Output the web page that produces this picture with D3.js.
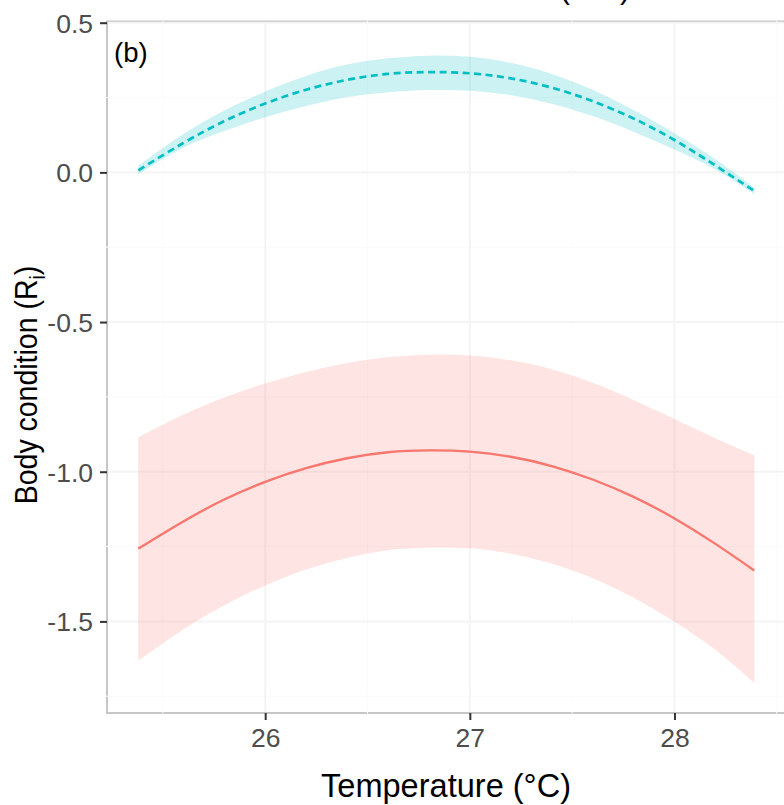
<!DOCTYPE html>
<html>
<head>
<meta charset="utf-8">
<script src="https://cdn.jsdelivr.net/npm/d3@7"></script>
<style>
  html, body { margin: 0; padding: 0; background: #fff; }
  svg { display: block; font-family: "Liberation Sans", Arial, sans-serif; }
</style>
</head>
<body>
<svg id="chart" width="784" height="805"></svg>
<script>
// Temperature grid (°C) at which the fitted curves are drawn
const temperature = [25.38, 25.6, 25.8, 26.0, 26.2, 26.4, 26.6, 26.8, 27.0, 27.2, 27.4, 27.6, 27.8, 28.0, 28.2, 28.39];

// Group 1 (solid red): fitted body condition and its confidence band
const fitA   = [-1.257, -1.166, -1.093, -1.034, -0.988, -0.955, -0.935, -0.929, -0.933, -0.950, -0.981, -1.026, -1.084, -1.156, -1.241, -1.330];
const upperA = [-0.885, -0.810, -0.752, -0.705, -0.667, -0.637, -0.618, -0.609, -0.612, -0.628, -0.658, -0.703, -0.760, -0.824, -0.888, -0.945];
const lowerA = [-1.631, -1.527, -1.446, -1.380, -1.327, -1.288, -1.262, -1.254, -1.256, -1.274, -1.307, -1.356, -1.421, -1.501, -1.595, -1.706];

// Group 2 (dashed cyan): fitted body condition and its confidence band
const fitB   = [0.007, 0.098, 0.171, 0.230, 0.276, 0.309, 0.329, 0.335, 0.331, 0.314, 0.283, 0.238, 0.180, 0.108, 0.023, -0.062];
const upperB = [0.022, 0.128, 0.207, 0.270, 0.322, 0.360, 0.381, 0.390, 0.386, 0.366, 0.329, 0.276, 0.208, 0.131, 0.044, -0.051];
const lowerB = [-0.006, 0.082, 0.138, 0.184, 0.222, 0.251, 0.268, 0.275, 0.273, 0.258, 0.229, 0.188, 0.136, 0.076, 0.010, -0.072];

// Axis breaks
const xTicks = [26, 27, 28];
const xMinor = [25.5, 26.5, 27.5, 28.5];
const yTicks = [-1.5, -1.0, -0.5, 0.0, 0.5];
const yMinor = [-1.75, -1.25, -0.75, -0.25, 0.25];

const panelLabel = "(b)";
const xTitle = "Temperature (°C)";

const svg = d3.select("#chart");
const panel = { left: 107, right: 786, top: 21.5, bottom: 713 };

const x = d3.scaleLinear().domain([25.227, 28.545]).range([panel.left, panel.right]);
const y = d3.scaleLinear().domain([-1.806, 0.504]).range([panel.bottom, panel.top]);

const red = "#F8766D", cyan = "#00BFC4";

// Strip title above the panel, mostly clipped by the top edge
svg.append("text")
  .attr("x", 560).attr("y", -1.5)
  .attr("font-size", 30).attr("fill", "#000")
  .style("white-space", "pre")
  .text("(      )");

// Panel border
svg.append("rect")
  .attr("x", panel.left).attr("y", panel.top)
  .attr("width", panel.right - panel.left).attr("height", panel.bottom - panel.top)
  .attr("fill", "#fff").attr("stroke", "#C6C6C6").attr("stroke-width", 2);

// Grid lines (drawn across the border so they nick it slightly)
const grid = svg.append("g");
grid.selectAll(".xminor").data(xMinor).join("line")
  .attr("x1", d => x(d)).attr("x2", d => x(d))
  .attr("y1", panel.top - 1).attr("y2", panel.bottom + 1)
  .attr("stroke", "#FAFAFA").attr("stroke-width", 1);
grid.selectAll(".yminor").data(yMinor).join("line")
  .attr("y1", d => y(d)).attr("y2", d => y(d))
  .attr("x1", panel.left - 1).attr("x2", panel.right)
  .attr("stroke", "#FAFAFA").attr("stroke-width", 1);
grid.selectAll(".xmajor").data(xTicks).join("line")
  .attr("x1", d => x(d)).attr("x2", d => x(d))
  .attr("y1", panel.top + 1).attr("y2", panel.bottom - 1)
  .attr("stroke", "#F4F4F4").attr("stroke-width", 2);
grid.selectAll(".ymajor").data(yTicks).join("line")
  .attr("y1", d => y(d)).attr("y2", d => y(d))
  .attr("x1", panel.left + 1).attr("x2", panel.right)
  .attr("stroke", "#F4F4F4").attr("stroke-width", 2);

svg.append("clipPath").attr("id", "clip").append("rect")
  .attr("x", panel.left + 1).attr("y", panel.top + 1)
  .attr("width", panel.right - panel.left - 2).attr("height", panel.bottom - panel.top - 2);

const plot = svg.append("g").attr("clip-path", "url(#clip)");

const rows = (fit, lo, hi) => temperature.map((t, i) => ({ t, fit: fit[i], lo: lo[i], hi: hi[i] }));
const dataA = rows(fitA, lowerA, upperA);
const dataB = rows(fitB, lowerB, upperB);

const area = d3.area().curve(d3.curveNatural)
  .x(d => x(d.t)).y0(d => y(d.lo)).y1(d => y(d.hi));
const line = d3.line().curve(d3.curveNatural)
  .x(d => x(d.t)).y(d => y(d.fit));

plot.append("path").datum(dataA).attr("d", area).attr("fill", red).attr("fill-opacity", 0.2);
plot.append("path").datum(dataB).attr("d", area).attr("fill", cyan).attr("fill-opacity", 0.2);

plot.append("path").datum(dataA).attr("d", line)
  .attr("fill", "none").attr("stroke", red).attr("stroke-width", 2.3);
plot.append("path").datum(dataB).attr("d", line)
  .attr("fill", "none").attr("stroke", cyan).attr("stroke-width", 2.7)
  .attr("stroke-dasharray", "7,4.5");

// Axes
const xAxis = svg.append("g").attr("transform", `translate(0,${panel.bottom})`)
  .call(d3.axisBottom(x).tickValues(xTicks).tickFormat(d3.format("d")).tickSize(7).tickPadding(8));
const yAxis = svg.append("g").attr("transform", `translate(${panel.left},0)`)
  .call(d3.axisLeft(y).tickValues(yTicks).tickFormat(d => d.toFixed(1)).tickSize(7).tickPadding(7));

[xAxis, yAxis].forEach(g => {
  g.select(".domain").remove();
  g.selectAll(".tick line").attr("stroke", "#333").attr("stroke-width", 2);
  g.selectAll(".tick text").attr("fill", "#4D4D4D").attr("font-size", 26.5)
    .attr("font-family", "'Liberation Sans', Arial, sans-serif");
});
yAxis.selectAll(".tick text").attr("dy", "0.36em");

// Panel tag
svg.append("text")
  .attr("x", 114).attr("y", 62)
  .attr("font-size", 27.5).attr("fill", "#000")
  .text(panelLabel);

// Axis titles
svg.append("text")
  .attr("x", 446).attr("y", 797)
  .attr("text-anchor", "middle").attr("font-size", 33.5).attr("fill", "#000")
  .attr("textLength", 250).attr("lengthAdjust", "spacingAndGlyphs")
  .text(xTitle);

const yt = svg.append("text")
  .attr("transform", "translate(37,385) rotate(-90) scale(0.89,1)")
  .attr("text-anchor", "middle").attr("font-size", 32).attr("fill", "#000");
yt.append("tspan").text("Body condition (R");
yt.append("tspan").attr("font-size", 22).attr("dy", 8).text("i");
yt.append("tspan").attr("dy", -8).text(")");
</script>
</body>
</html>
